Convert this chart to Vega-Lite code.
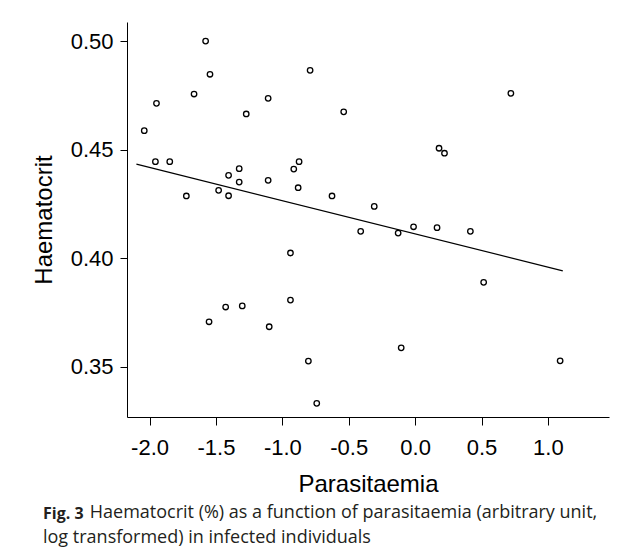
{
  "$schema": "https://vega.github.io/schema/vega-lite/v6.json",
  "width": 482,
  "height": 395,
  "autosize": {"type": "none"},
  "padding": {"left": 127, "top": 22, "right": 18, "bottom": 140},
  "background": "white",
  "config": {
    "view": {"stroke": null},
    "font": "Liberation Sans",
    "axis": {
      "grid": false,
      "domainColor": "black",
      "domainWidth": 1,
      "tickColor": "black",
      "tickSize": 7,
      "tickWidth": 1,
      "labelFont": "Liberation Sans",
      "labelFontSize": 22,
      "labelColor": "black",
      "labelPadding": 7,
      "titleFont": "Liberation Sans",
      "titleFontSize": 24,
      "titleFontWeight": "normal",
      "titleColor": "black"
    }
  },
  "title": {
    "text": "Fig. 3",
    "subtitle": ["\u200b\u00a0\u00a0\u00a0\u00a0\u00a0\u00a0\u00a0\u00a0\u00a0\u00a0Haematocrit (%) as a function of parasitaemia (arbitrary unit,", "log transformed) in infected individuals"],
    "orient": "bottom",
    "anchor": "start",
    "frame": "group",
    "dx": -84,
    "offset": 10,
    "font": "Open Sans",
    "fontSize": 16,
    "fontWeight": "bold",
    "color": "#231f20",
    "subtitleFont": "Open Sans",
    "subtitleFontSize": 18,
    "subtitleColor": "#231f20",
    "subtitleLineHeight": 25,
    "subtitlePadding": -18
  },
  "datasets": {
    "points": [
      {"Parasitaemia": -2.04, "Haematocrit": 0.4588},
      {"Parasitaemia": -1.948, "Haematocrit": 0.4714},
      {"Parasitaemia": -1.956, "Haematocrit": 0.4445},
      {"Parasitaemia": -1.848, "Haematocrit": 0.4445},
      {"Parasitaemia": -1.723, "Haematocrit": 0.4287},
      {"Parasitaemia": -1.665, "Haematocrit": 0.4757},
      {"Parasitaemia": -1.578, "Haematocrit": 0.5001},
      {"Parasitaemia": -1.545, "Haematocrit": 0.4848},
      {"Parasitaemia": -1.48, "Haematocrit": 0.4313},
      {"Parasitaemia": -1.405, "Haematocrit": 0.4382},
      {"Parasitaemia": -1.405, "Haematocrit": 0.4288},
      {"Parasitaemia": -1.325, "Haematocrit": 0.4413},
      {"Parasitaemia": -1.325, "Haematocrit": 0.4351},
      {"Parasitaemia": -1.272, "Haematocrit": 0.4665},
      {"Parasitaemia": -1.107, "Haematocrit": 0.4737},
      {"Parasitaemia": -1.107, "Haematocrit": 0.4359},
      {"Parasitaemia": -0.914, "Haematocrit": 0.4411},
      {"Parasitaemia": -0.874, "Haematocrit": 0.4445},
      {"Parasitaemia": -0.881, "Haematocrit": 0.4325},
      {"Parasitaemia": -0.791, "Haematocrit": 0.4866},
      {"Parasitaemia": -0.626, "Haematocrit": 0.4287},
      {"Parasitaemia": -0.538, "Haematocrit": 0.4675},
      {"Parasitaemia": 0.721, "Haematocrit": 0.476},
      {"Parasitaemia": 0.18, "Haematocrit": 0.4507},
      {"Parasitaemia": 0.221, "Haematocrit": 0.4484},
      {"Parasitaemia": -0.308, "Haematocrit": 0.4239},
      {"Parasitaemia": -0.41, "Haematocrit": 0.4124},
      {"Parasitaemia": -0.939, "Haematocrit": 0.4024},
      {"Parasitaemia": -0.939, "Haematocrit": 0.3807},
      {"Parasitaemia": -1.427, "Haematocrit": 0.3775},
      {"Parasitaemia": -1.302, "Haematocrit": 0.378},
      {"Parasitaemia": -1.552, "Haematocrit": 0.3707},
      {"Parasitaemia": -1.099, "Haematocrit": 0.3684},
      {"Parasitaemia": -0.804, "Haematocrit": 0.3526},
      {"Parasitaemia": -0.741, "Haematocrit": 0.3331},
      {"Parasitaemia": -0.128, "Haematocrit": 0.4116},
      {"Parasitaemia": -0.012, "Haematocrit": 0.4145},
      {"Parasitaemia": 0.165, "Haematocrit": 0.4141},
      {"Parasitaemia": 0.416, "Haematocrit": 0.4124},
      {"Parasitaemia": 0.516, "Haematocrit": 0.3889},
      {"Parasitaemia": -0.105, "Haematocrit": 0.3587},
      {"Parasitaemia": 1.092, "Haematocrit": 0.3527}
    ],
    "fit": [
      {"Parasitaemia": -2.099, "Haematocrit": 0.4434},
      {"Parasitaemia": 1.112, "Haematocrit": 0.3942}
    ]
  },
  "layer": [
    {
      "data": {"name": "fit"},
      "mark": {"type": "line", "color": "black", "strokeWidth": 1.2},
      "encoding": {
        "x": {"field": "Parasitaemia", "type": "quantitative"},
        "y": {"field": "Haematocrit", "type": "quantitative"}
      }
    },
    {
      "data": {"name": "points"},
      "mark": {"type": "point", "shape": "circle", "filled": false, "color": "black", "strokeWidth": 1.3, "size": 30, "opacity": 1},
      "encoding": {
        "x": {
          "field": "Parasitaemia",
          "type": "quantitative",
          "scale": {"domain": [-2.17, 1.46], "nice": false, "zero": false},
          "axis": {
            "title": "Parasitaemia",
            "values": [-2, -1.5, -1, -0.5, 0, 0.5, 1],
            "labelExpr": "replace(format(datum.value, '.1f'), '\u2212', '-')",
            "tickSize": 8,
            "labelPadding": 12,
            "titlePadding": 14
          }
        },
        "y": {
          "field": "Haematocrit",
          "type": "quantitative",
          "scale": {"domain": [0.3268, 0.5089], "nice": false, "zero": false},
          "axis": {
            "title": "Haematocrit",
            "values": [0.35, 0.4, 0.45, 0.5],
            "format": ".2f",
            "titlePadding": 14
          }
        }
      }
    }
  ]
}
